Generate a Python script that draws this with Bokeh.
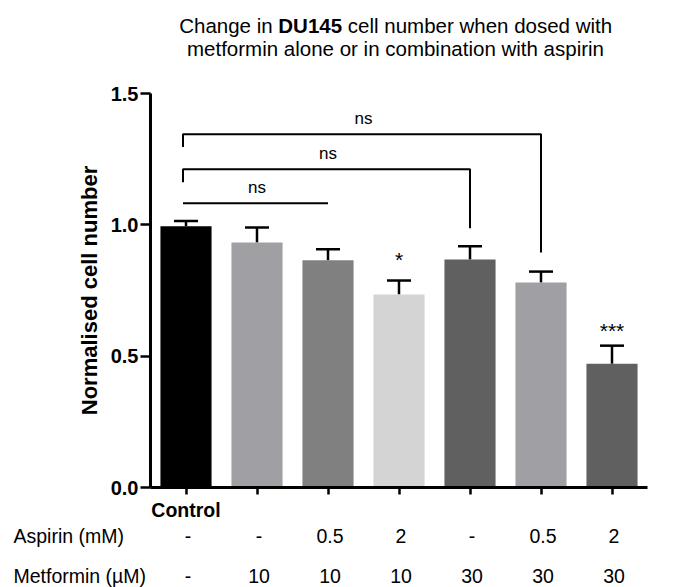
import math
from bokeh.plotting import figure
from bokeh.models import (Range1d, Label, ColumnDataSource, Whisker, TeeHead,
                          FixedTicker, PrintfTickFormatter)
from bokeh.embed import file_html
from bokeh.resources import INLINE

# ---------------- data ----------------
conditions = ["Control", "Met 10", "Met 10 + Asp 0.5", "Met 10 + Asp 2",
              "Met 30", "Met 30 + Asp 0.5", "Met 30 + Asp 2"]
aspirin_labels = ["-", "-", "0.5", "2", "-", "0.5", "2"]
metformin_labels = ["-", "10", "10", "10", "30", "30", "30"]
means = [0.995, 0.933, 0.865, 0.735, 0.868, 0.780, 0.471]
sems = [0.020, 0.057, 0.042, 0.053, 0.050, 0.042, 0.069]
bar_colors = ["#000000", "#a0a0a4", "#808080", "#d4d4d4", "#606060", "#a0a0a4", "#606060"]

y_ticks = [0.0, 0.5, 1.0, 1.5]

# significance brackets (bar indices and y levels)
bracket_start = [0, 0, 0]
bracket_end = [2, 4, 5]
bracket_y = [1.082, 1.212, 1.345]
bracket_left_drop = [1.082, 1.162, 1.296]
bracket_right_drop = [1.082, 0.987, 0.895]
bracket_text = ["ns", "ns", "ns"]

star_index = [3, 6]
star_text = ["*", "***"]

# ---------------- layout ----------------
W, H = 687, 587
AX_L, AX_R, AX_T, AX_B = 150, 647, 93, 487      # plot area box in pixels
X0, X1 = -0.5, 6.5
Y0, Y1 = 0.0, 1.5
PPX = (AX_R - AX_L) / (X1 - X0)
PPY = (AX_B - AX_T) / (Y1 - Y0)
XR = (X0 - AX_L / PPX, X0 + (W - AX_L) / PPX)
YR = (Y0 - (H - AX_B) / PPY, Y0 + AX_B / PPY)
FONT = "Liberation Sans"


def X(px):
    return XR[0] + px / PPX


def Y(py):
    return YR[1] - py / PPY


def DY(px):
    return px / PPY


def label(x, y, text, size, style="normal", align="center", **kw):
    p.add_layout(Label(x=x, y=y, text=text, text_align=align, text_baseline="middle",
                       text_font=FONT, text_font_style=style, text_font_size=size,
                       text_color="black", **kw))


p = figure(width=W, height=H, x_range=Range1d(*XR), y_range=Range1d(*YR),
           output_backend="svg", toolbar_location=None,
           min_border=0, min_border_left=0, min_border_right=0,
           min_border_top=0, min_border_bottom=0)
p.outline_line_color = None
p.xgrid.visible = False
p.ygrid.visible = False
p.background_fill_color = "white"
p.border_fill_color = "white"

xs = list(range(len(conditions)))
src = ColumnDataSource(dict(
    x=xs, mean=means, upper=[m + s for m, s in zip(means, sems)], color=bar_colors))

p.vbar(x="x", top="mean", bottom=0, width=0.72, fill_color="color",
       line_color=None, source=src)

whisk = Whisker(source=src, base="x", upper="upper", lower="mean",
                line_width=2.5, line_color="black",
                upper_head=TeeHead(size=24, line_width=2.5, line_color="black"),
                lower_head=None)
p.add_layout(whisk)

# brackets
bxs, bys = [], []
for s, e, yy, ld, rd in zip(bracket_start, bracket_end, bracket_y,
                            bracket_left_drop, bracket_right_drop):
    bxs.append([s - 3 / PPX, s - 3 / PPX, e, e])
    bys.append([ld, yy, yy, rd])
p.multi_line(xs=bxs, ys=bys, line_color="black", line_width=2)

for s, e, yy, t in zip(bracket_start, bracket_end, bracket_y, bracket_text):
    label((s + e) / 2, yy + DY(16), t, "17px")

star_gap_px = [21, 15]
for i, t, g in zip(star_index, star_text, star_gap_px):
    label(i, means[i] + sems[i] + DY(g), t, "21px")

# axes (drawn at fixed locations inside the full-canvas frame)
p.yaxis.fixed_location = X0
p.yaxis.bounds = (Y0, Y1)
p.yaxis.ticker = FixedTicker(ticks=y_ticks)
p.yaxis.formatter = PrintfTickFormatter(format="%.1f")
p.yaxis.axis_line_width = 3
p.yaxis.major_tick_line_width = 2.5
p.yaxis.major_tick_out = 10
p.yaxis.major_tick_in = 0
p.yaxis.minor_tick_line_color = None
p.yaxis.major_label_standoff = 2
p.yaxis.major_label_text_font = FONT
p.yaxis.major_label_text_font_style = "bold"
p.yaxis.major_label_text_font_size = "20px"
p.yaxis.major_label_text_color = "black"

p.xaxis.fixed_location = Y0
p.xaxis.bounds = (X0, X1)
p.xaxis.ticker = FixedTicker(ticks=xs)
p.xaxis.major_label_overrides = {i: "" for i in xs}
p.xaxis.axis_line_width = 3
p.xaxis.major_tick_line_width = 2.5
p.xaxis.major_tick_out = 7
p.xaxis.major_tick_in = 0
p.xaxis.minor_tick_line_color = None

# y axis title
label(X(89), Y(290), "Normalised cell number", "22px", style="bold", angle=math.pi / 2)

# title (two lines, with bold cell line name)
TITLE_SIZE = "20.5px"
title_x0 = 178.7
parts = [("Change in", "normal", 0.0), ("DU145", "bold", 99.1),
         ("cell number when dosed with", "normal", 99.1 + 63.8 + 5.7)]
for txt, style, off in parts:
    label(X(title_x0 + off), Y(24.5), txt, TITLE_SIZE, style=style, align="left")
label(X(395), Y(47.5), "metformin alone or in combination with aspirin", TITLE_SIZE)

# treatment table below the axis
ROW = "19.5px"
label(0, Y(509), conditions[0], ROW, style="bold")
label(X(13), Y(535), "Aspirin (mM)", ROW, align="left")
label(X(13), Y(575), "Metformin (\u00b5M)", ROW, align="left")
shift = 2 / PPX
for i, (a, m) in enumerate(zip(aspirin_labels, metformin_labels)):
    label(i + shift, Y(535), a, ROW)
    label(i + shift, Y(575), m, ROW)

open("out.html", "w").write(file_html(p, INLINE))
